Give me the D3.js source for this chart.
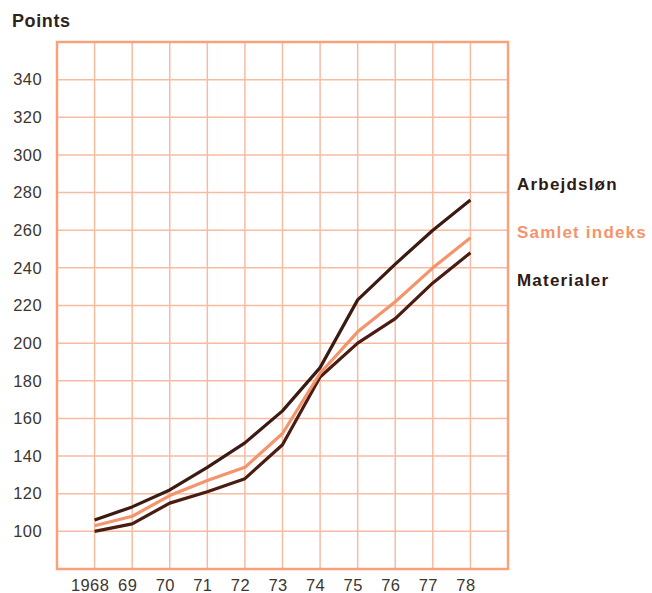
<!DOCTYPE html>
<html>
<head>
<meta charset="utf-8">
<script src="https://cdn.jsdelivr.net/npm/d3@7"></script>
<style>
    body { margin: 0; background: #fff; }
    svg text { font-family: "Liberation Sans", Arial, sans-serif; }
</style>
</head>
<body>
<div id="chart"></div>
<script>
var years = [1968, 1969, 1970, 1971, 1972, 1973, 1974, 1975, 1976, 1977, 1978];
var yearLabels = ['1968', '69', '70', '71', '72', '73', '74', '75', '76', '77', '78'];
var yTicks = [100, 120, 140, 160, 180, 200, 220, 240, 260, 280, 300, 320, 340];

var arbejdslon = [106, 113, 122, 134, 147, 164, 187, 223, 242, 260, 276];
var samletIndeks = [103, 108, 119, 127, 134, 152, 184, 206, 222, 240, 256];
var materialer = [100, 104, 115, 121, 128, 146, 182, 200, 213, 232, 248];

var seriesNames = ['Arbejdsløn', 'Samlet indeks', 'Materialer'];
var seriesColors = ['#3b1a12', '#f4946c', '#4a1c12'];

function drawChart() {
    var width = 652, height = 593;

    var x = d3.scaleLinear().domain([1967, 1979]).range([57, 508]);
    var y = d3.scaleLinear().domain([80, 360]).range([569, 42]);

    var svg = d3.select('#chart')
        .append('svg')
        .attr('width', width)
        .attr('height', height);

    // grid
    var grid = svg.append('g').attr('class', 'grid');
    d3.range(1968, 1979).forEach(function (yr) {
        grid.append('line')
            .attr('x1', x(yr)).attr('x2', x(yr))
            .attr('y1', y(360)).attr('y2', y(80))
            .attr('stroke', '#f9bba0')
            .attr('stroke-width', 1.5);
    });
    d3.range(100, 360, 20).forEach(function (v) {
        grid.append('line')
            .attr('x1', x(1967)).attr('x2', x(1979))
            .attr('y1', y(v)).attr('y2', y(v))
            .attr('stroke', '#f9bba0')
            .attr('stroke-width', 1.5);
    });

    // frame
    svg.append('rect')
        .attr('x', x(1967))
        .attr('y', y(360))
        .attr('width', x(1979) - x(1967))
        .attr('height', y(80) - y(360))
        .attr('fill', 'none')
        .attr('stroke', '#f8a27c')
        .attr('stroke-width', 2.5);

    // Y axis labels
    var yAxis = d3.axisLeft(y).tickValues(yTicks).tickSize(0).tickPadding(0);
    var gy = svg.append('g')
        .attr('transform', 'translate(42,0)')
        .call(yAxis);
    gy.select('.domain').remove();
    gy.selectAll('text')
        .attr('fill', '#3d3630')
        .style('font-size', '16.5px')
        .style('letter-spacing', '0.4px');

    // X axis labels (printed slightly left of the gridlines)
    var xAxis = d3.axisBottom(x).tickValues(years).tickSize(0).tickPadding(0)
        .tickFormat(function (d, i) { return yearLabels[i]; });
    var gx = svg.append('g')
        .attr('transform', 'translate(-5,579)')
        .call(xAxis);
    gx.select('.domain').remove();
    gx.selectAll('text')
        .attr('fill', '#3d3630')
        .style('font-size', '16.5px')
        .style('letter-spacing', '0.4px');

    svg.append('text')
        .attr('x', 12)
        .attr('y', 27)
        .attr('fill', '#2e2520')
        .style('font-size', '18px')
        .style('font-weight', 'bold')
        .style('letter-spacing', '0.6px')
        .text('Points');

    var line = d3.line()
        .x(function (d, i) { return x(years[i]); })
        .y(function (d) { return y(d); });

    var data = [materialer, arbejdslon, samletIndeks];
    var colors = [seriesColors[2], seriesColors[0], seriesColors[1]];
    data.forEach(function (s, i) {
        svg.append('path')
            .datum(s)
            .attr('d', line)
            .attr('fill', 'none')
            .attr('stroke', colors[i])
            .attr('stroke-width', 3.2)
            .attr('stroke-linejoin', 'round');
    });

    // legend labels
    var legendY = [190, 238, 286];
    seriesNames.forEach(function (name, i) {
        svg.append('text')
            .attr('x', 517)
            .attr('y', legendY[i])
            .attr('fill', i === 1 ? '#f4946c' : '#2e1a12')
            .style('font-size', '17px')
            .style('font-weight', 'bold')
            .style('letter-spacing', '1.2px')
            .text(name);
    });
}

drawChart();
</script>
</body>
</html>
